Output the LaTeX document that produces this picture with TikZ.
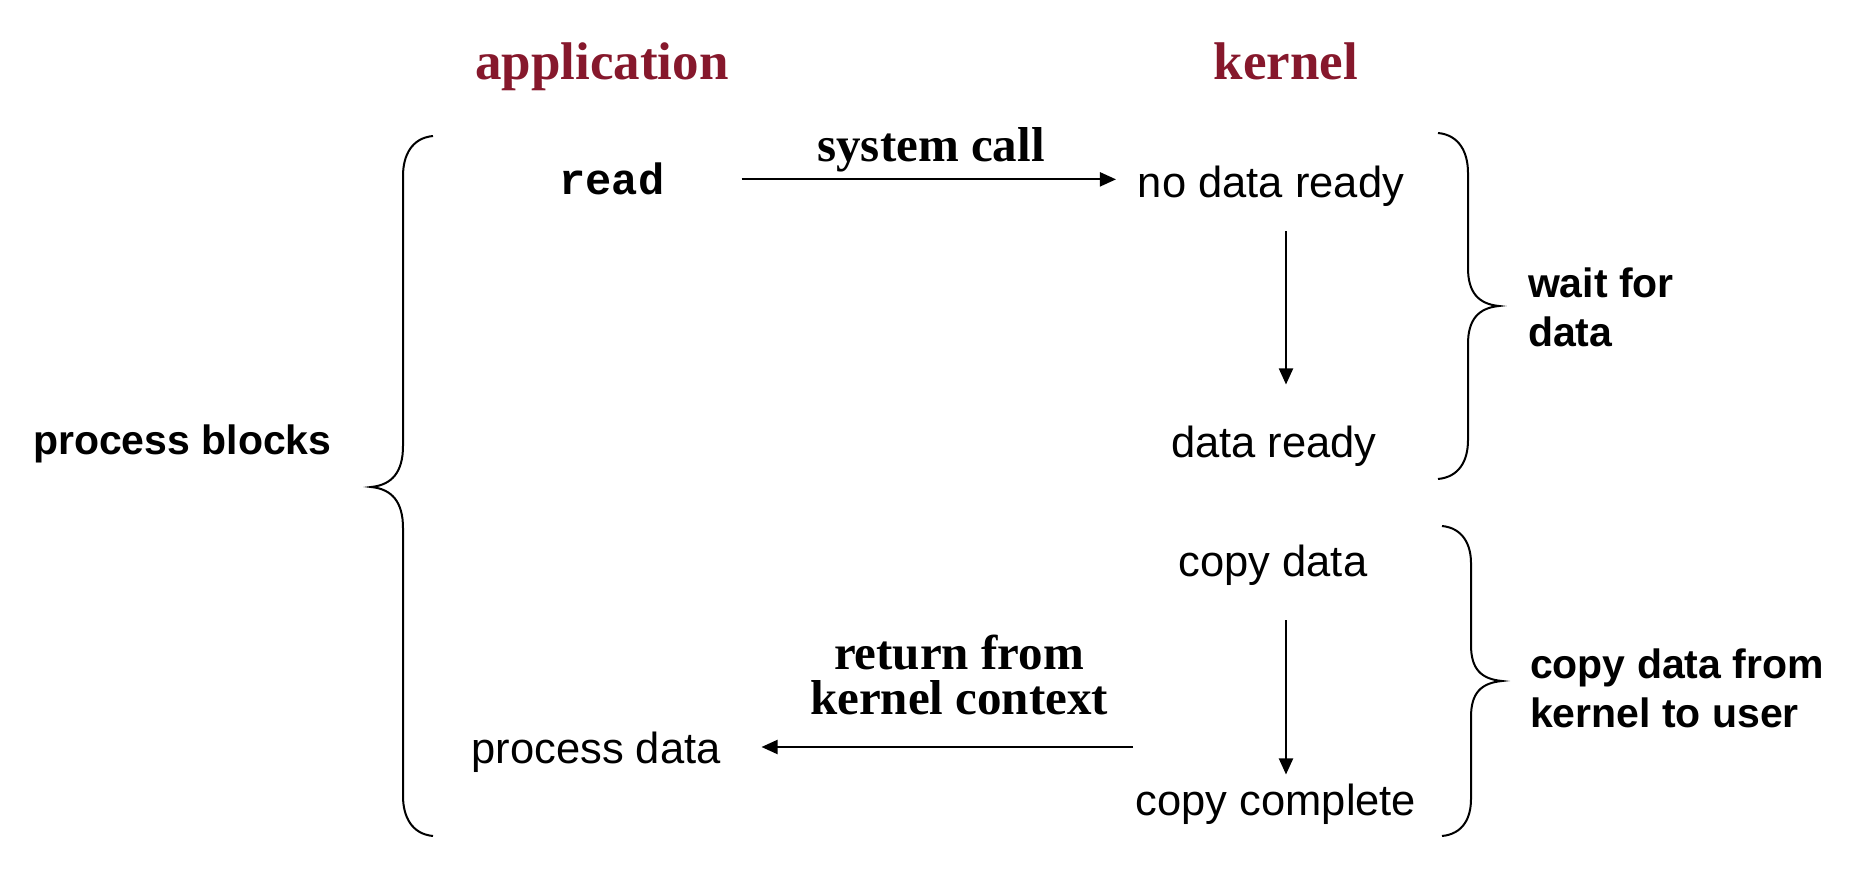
\documentclass[tikz,border=0pt]{standalone}
\usepackage{fontspec}
\setmainfont{Liberation Serif}
\setsansfont{Liberation Sans}
\setmonofont{Liberation Mono}
\usetikzlibrary{arrows.meta}
\definecolor{titlered}{RGB}{134,24,44}
\begin{document}
\begin{tikzpicture}[x=0.5pt,y=-0.5pt,
  every node/.style={inner sep=0pt, outer sep=0pt},
  title/.style={font=\rmfamily\bfseries\fontsize{26.5pt}{30pt}\selectfont, text=titlered, anchor=base},
  slabel/.style={font=\rmfamily\bfseries\fontsize{24.5pt}{22.5pt}\selectfont, anchor=base, align=center},
  plain/.style={font=\sffamily\fontsize{21.75pt}{26pt}\selectfont, anchor=base},
  bside/.style={font=\sffamily\bfseries\fontsize{20.5pt}{24.5pt}\selectfont, anchor=base west, align=left},
  code/.style={font=\ttfamily\bfseries\fontsize{21.875pt}{26pt}\selectfont, anchor=base},
  arr/.style={line width=1pt, -{Triangle[length=8pt,width=7pt]}},
  brace/.style={line width=1pt}
]
\useasboundingbox[fill=white] (0,0) rectangle (1852,876);

% titles
\node[title] (app) at (602,80) {application};
\node[title] (kern) at (1286,80) {kernel};

% texts
\node[code] (rd) at (612,195) {read};
\node[slabel] (sc) at (931,162) {system call};
\node[plain] (ndr) at (1271,198) {no data ready};
\node[plain] (dr) at (1274,458) {data ready};
\node[plain] (cd) at (1273,577) {copy data};
\node[plain] (cc) at (1276,815) {copy complete};
\node[plain] (pd) at (596,763) {process data};
% multi-line nodes: base anchor is the baseline of the last line
\node[slabel] (rfk) at (959,714) {return from\\kernel context};

% side labels
\node[bside] (wfd) at (1528,347) {wait for\\data};
\node[bside] (cdk) at (1530,727) {copy data from\\kernel to user};
\node[bside] (pb) at (33,455) {process blocks};

% arrows
\draw[arr, shorten <=38.5pt, shorten >=11pt] (rd.east) -- (rd.east -| ndr.west);
\draw[arr, shorten <=12pt, shorten >=21pt] (ndr.south -| kern.base) -- (dr.north -| kern.base);
\draw[arr, shorten <=17pt, shorten >=4.5pt] (cd.south -| kern.base) -- (cc.north -| kern.base);
\coordinate (rs) at (1133,747);
\draw[arr, shorten >=20.5pt] (rs) -- (rs -| pd.east);

% braces
\draw[brace] (433,136) .. controls (412,138) and (403,155) .. (403,176) -- (403,446)
  .. controls (403,472) and (392,485) .. (371,487)
  .. controls (392,489) and (403,502) .. (403,528) -- (403,796)
  .. controls (403,817) and (412,834) .. (433,836);
\draw[brace] (1438,133) .. controls (1459,135) and (1468,152) .. (1468,173) -- (1468,268)
  .. controls (1468,292) and (1478,304) .. (1499,306)
  .. controls (1478,308) and (1468,320) .. (1468,344) -- (1468,440)
  .. controls (1468,461) and (1459,477) .. (1438,479);
\draw[brace] (1442,526) .. controls (1463,528) and (1471,545) .. (1471,563) -- (1471,645)
  .. controls (1471,669) and (1481,679) .. (1502,681)
  .. controls (1481,683) and (1471,693) .. (1471,717) -- (1471,799)
  .. controls (1471,818) and (1463,834) .. (1442,836);
\end{tikzpicture}
\end{document}
